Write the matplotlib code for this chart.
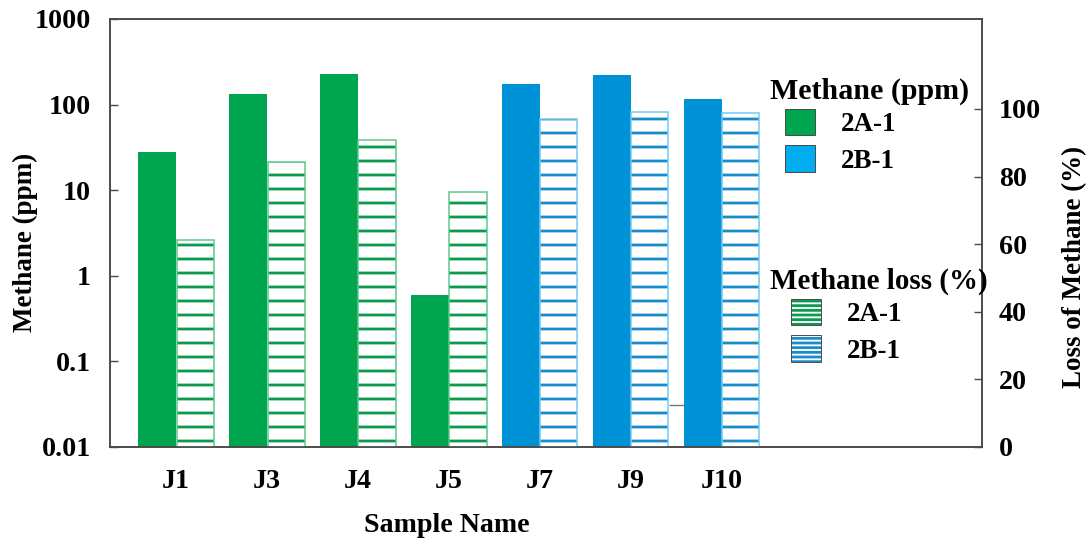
import numpy as np
import matplotlib
matplotlib.use("Agg")
import matplotlib.pyplot as plt
import matplotlib.patches as mpatches

DPI = 84
PX = 72 / DPI  # points per pixel

plt.rcParams["font.family"] = ["Liberation Serif", "DejaVu Serif"]
plt.rcParams["font.weight"] = "bold"
plt.rcParams["hatch.linewidth"] = 2.4

# ─── data ─────────────────────────────────────────────────────────────────────
samples      = ["J1", "J3", "J4", "J5", "J7", "J9", "J10"]
groups       = ["2A-1", "2A-1", "2A-1", "2A-1", "2B-1", "2B-1", "2B-1"]
methane_ppm  = [27.9, 133, 227, 0.6, 175, 222, 116]
methane_loss = [61.2, 84.3, 90.8, 75.4, 97.0, 99.1, 98.8]
stub_loss    = 12.4   # short stray line between J9 and J10

# ─── styles ───────────────────────────────────────────────────────────────────
SOLID   = {"2A-1": "#00a54f", "2B-1": "#0092d6"}
HATCH   = {"2A-1": "#0b9a4e", "2B-1": "#1a8cc9"}
OUTLINE = {"2A-1": "#5cc78c", "2B-1": "#74c9ee"}
LEG_BLUE = "#00aeef"
SPINE = "#4a4a4a"

fig = plt.figure(figsize=(1091 / DPI, 544 / DPI), dpi=DPI)
ax = fig.add_axes([110 / 1091, 97 / 544, 872 / 1091, 428 / 544])
ax2 = ax.twinx()

x = np.arange(len(samples))
w = 0.42
bottom = 0.01

ax.bar(x - w / 2, np.array(methane_ppm) - bottom, bottom=bottom, width=w,
       color=[SOLID[g] for g in groups], edgecolor="none")

hcols = [HATCH[g] for g in groups]
ocols = [OUTLINE[g] for g in groups]
ax2.bar(x + w / 2, methane_loss, width=w * 0.97, color="white",
        edgecolor=hcols, hatch="-", linewidth=0)
ax2.bar(x + w / 2, methane_loss, width=w * 0.97, fill=False,
        edgecolor=ocols, linewidth=1.3)
ax2.hlines(stub_loss, x[5] + w, x[6] - w, color="#777777", linewidth=1.2)

ax.set_yscale("log")
ax.set_ylim(0.01, 1000)
ax.set_yticks([0.01, 0.1, 1, 10, 100, 1000])
ax.set_yticklabels(["0.01", "0.1", "1", "10", "100", "1000"])
ax.minorticks_off()
ax.set_xlim(-0.725, 8.86)
ax.set_xticks(x)
ax.set_xticklabels(samples)

ax2.set_ylim(0, 126.6)
ax2.set_yticks([0, 20, 40, 60, 80, 100])

ax.tick_params(axis="y", direction="in", length=8 * PX, width=1.2, color=SPINE,
               pad=19 * PX, labelsize=28 * PX)
ax.tick_params(axis="x", length=0, pad=22 * PX, labelsize=28 * PX)
ax2.tick_params(axis="y", direction="in", length=8 * PX, width=1.2, color=SPINE,
                pad=17 * PX, labelsize=28 * PX)

for a in (ax, ax2):
    for s in a.spines.values():
        s.set_color(SPINE)
        s.set_linewidth(1.4)

ax.set_ylabel("Methane (ppm)", fontsize=27 * PX, fontweight="bold")
ax.yaxis.set_label_coords(-0.083, 0.479)
ax.set_xlabel("Sample Name", fontsize=28 * PX, fontweight="bold")
ax.xaxis.set_label_coords(0.386, -0.155)
ax2.set_ylabel("Loss of Methane (%)", fontsize=27 * PX, fontweight="bold",
               rotation=90)
ax2.yaxis.set_label_coords(1.092, 0.42)

# ─── legends ─────────────────────────────────────────────────────────────────
fig.text(770 / 1091, 1 - 91 / 544, "Methane (ppm)", fontsize=30 * PX,
         fontweight="bold", ha="left", va="center")
fig.text(770 / 1091, 1 - 281 / 544, "Methane loss (%)", fontsize=29 * PX,
         fontweight="bold", ha="left", va="center")

leg_kw = dict(loc="upper left", frameon=False, fontsize=27 * PX,
              handlelength=1.12, handleheight=1.12, handletextpad=0.95,
              labelspacing=0.3, borderpad=0.0, borderaxespad=0.0)

solid_handles = [
    mpatches.Patch(facecolor=SOLID["2A-1"], edgecolor="#444444", linewidth=0.8),
    mpatches.Patch(facecolor=LEG_BLUE, edgecolor="#444444", linewidth=0.8),
]
leg1 = fig.legend(solid_handles, ["2A-1", "2B-1"],
                  bbox_to_anchor=(785 / 1091, 1 - 109 / 544), **leg_kw)

hatch_handles = []
for g in ["2A-1", "2B-1"]:
    inner = mpatches.Patch(facecolor="white", edgecolor=HATCH[g], hatch="---",
                           linewidth=0)
    border = mpatches.Patch(fill=False, edgecolor="#444444", linewidth=0.8)
    hatch_handles.append((inner, border))
leg2 = fig.legend(hatch_handles, ["2A-1", "2B-1"],
                  bbox_to_anchor=(791 / 1091, 1 - 299 / 544), **leg_kw)

fig.savefig("out.png", dpi=DPI)
